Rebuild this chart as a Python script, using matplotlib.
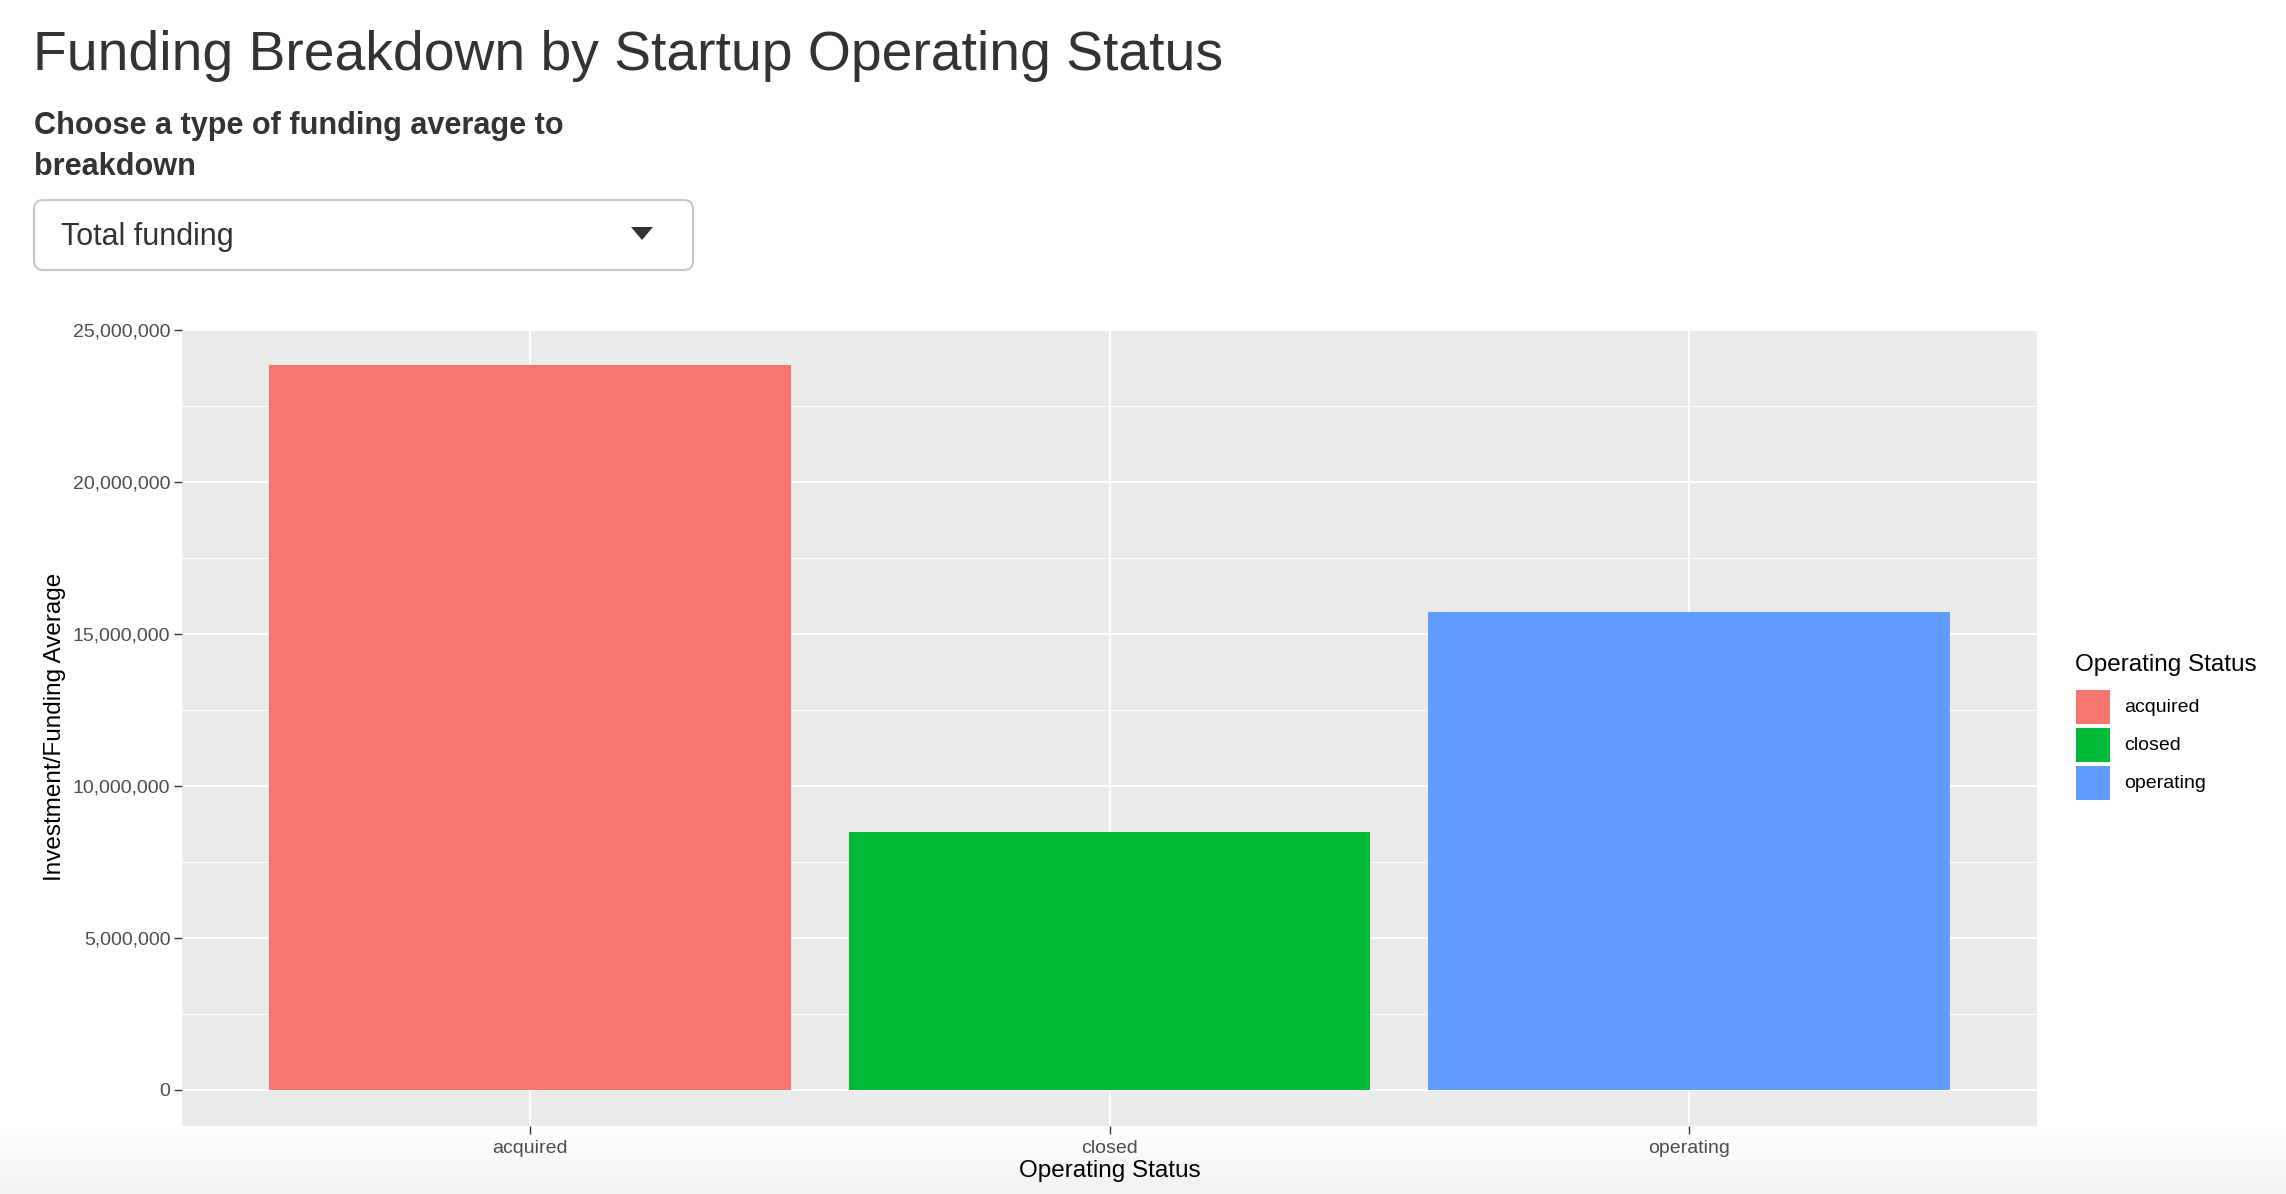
import matplotlib
matplotlib.use('Agg')
import matplotlib.pyplot as plt
import numpy as np
from matplotlib.patches import FancyBboxPatch, Rectangle, Polygon
from matplotlib.ticker import FuncFormatter, MultipleLocator

# ---- data ----
statuses = ['acquired', 'closed', 'operating']
funding = [23_830_000, 8_470_000, 15_730_000]
colors = ['#F8766D', '#00BA38', '#619CFF']
y_ticks = [0, 5_000_000, 10_000_000, 15_000_000, 20_000_000, 25_000_000]

title = 'Funding Breakdown by Startup Operating Status'
subtitle_lines = ['Choose a type of funding average to', 'breakdown']
dropdown_value = 'Total funding'
x_title = 'Operating Status'
y_title = 'Investment/Funding Average'
legend_title = 'Operating Status'

plt.rcParams['font.family'] = ['Liberation Sans', 'DejaVu Sans']

W, H = 2286, 1194
fig = plt.figure(figsize=(W / 100, H / 100), dpi=100)
fig.patch.set_facecolor('white')

def fx(x):
    return x / W

def fy(y):
    return 1 - y / H

# bottom gradient (browser shadow)
gax = fig.add_axes([0, 0, 1, 1], zorder=-10)
gax.set_axis_off()
shade = np.ones(H)
start = 1128
for i in range(H):
    if i > start:
        t = (i - start) / (H - start)
        shade[i] = 1 - 0.055 * t
img = np.repeat(shade[:, None], 3, axis=1)[:, None, :]
gax.imshow(img, aspect='auto', extent=[0, 1, 0, 1], origin='upper')
gax.set_xlim(0, 1)
gax.set_ylim(0, 1)

# main panel
left, right, top, bottom = 182, 2037, 329, 1126
ax = fig.add_axes([fx(left), fy(bottom), (right - left) / W, (bottom - top) / H])
ax.set_facecolor('#EBEBEB')
xpos = np.arange(len(statuses))
ax.bar(xpos, funding, width=0.9, color=colors, zorder=3)
ax.set_xlim(-0.6, len(statuses) - 0.4)
ymax = max(funding)
ax.set_ylim(-0.05 * ymax, 1.05 * ymax)
ax.set_yticks(y_ticks)
ax.yaxis.set_minor_locator(MultipleLocator(2_500_000))
ax.yaxis.set_major_formatter(FuncFormatter(lambda v, p: f'{int(v):,}'))
ax.set_xticks(xpos)
ax.set_xticklabels(statuses)
ax.grid(which='major', color='white', linewidth=1.5, zorder=1)
ax.grid(which='minor', axis='y', color='white', linewidth=0.75, zorder=1)
ax.set_axisbelow(True)
for s in ax.spines.values():
    s.set_visible(False)
ax.tick_params(axis='both', which='major', length=5.8, width=1.0, color='#333333',
               labelcolor='#4D4D4D', labelsize=14)
ax.tick_params(axis='y', pad=2.5)
ax.tick_params(axis='x', pad=4)
ax.tick_params(which='minor', length=0)

fig.text(fx(55), fy(727), y_title, rotation=90, ha='center', va='center',
         fontsize=17.5, color='black')
fig.text(fx(1110), fy(1171), x_title, ha='center', va='center',
         fontsize=17.5, color='black')

# legend
fig.text(fx(2075), fy(665), legend_title, ha='left', va='center', fontsize=17.5, color='black')
key_top = 690
for i, (lab, c) in enumerate(zip(statuses, colors)):
    y0 = key_top + i * 38
    fig.patches.append(Rectangle((fx(2076), fy(y0 + 34)), 34 / W, 34 / H,
                                 transform=fig.transFigure, facecolor=c, edgecolor='none'))
    fig.text(fx(2124), fy(y0 + 17), lab, ha='left', va='center', fontsize=14, color='black')

# title, subtitle, dropdown
fig.text(fx(33), fy(70), title, ha='left', va='baseline', fontsize=39.75, color='#333333')
fig.text(fx(34), fy(134), subtitle_lines[0], ha='left', va='baseline', fontsize=22.1,
         fontweight='bold', color='#333333')
fig.text(fx(34), fy(175), subtitle_lines[1], ha='left', va='baseline', fontsize=22.1,
         fontweight='bold', color='#333333')

box = FancyBboxPatch((fx(34), fy(270)), (693 - 34) / W, 70 / H,
                     boxstyle='round,pad=0,rounding_size=0.004',
                     transform=fig.transFigure, facecolor='white',
                     edgecolor='#C8C8C8', linewidth=1.5, mutation_aspect=W / H)
fig.patches.append(box)
fig.text(fx(61), fy(245), dropdown_value, ha='left', va='baseline', fontsize=22, color='#333333')
tri = Polygon([(fx(631), fy(227)), (fx(653), fy(227)), (fx(642), fy(240))],
              closed=True, transform=fig.transFigure, facecolor='#333333', edgecolor='none')
fig.patches.append(tri)

fig.savefig('out.png', dpi=100)
